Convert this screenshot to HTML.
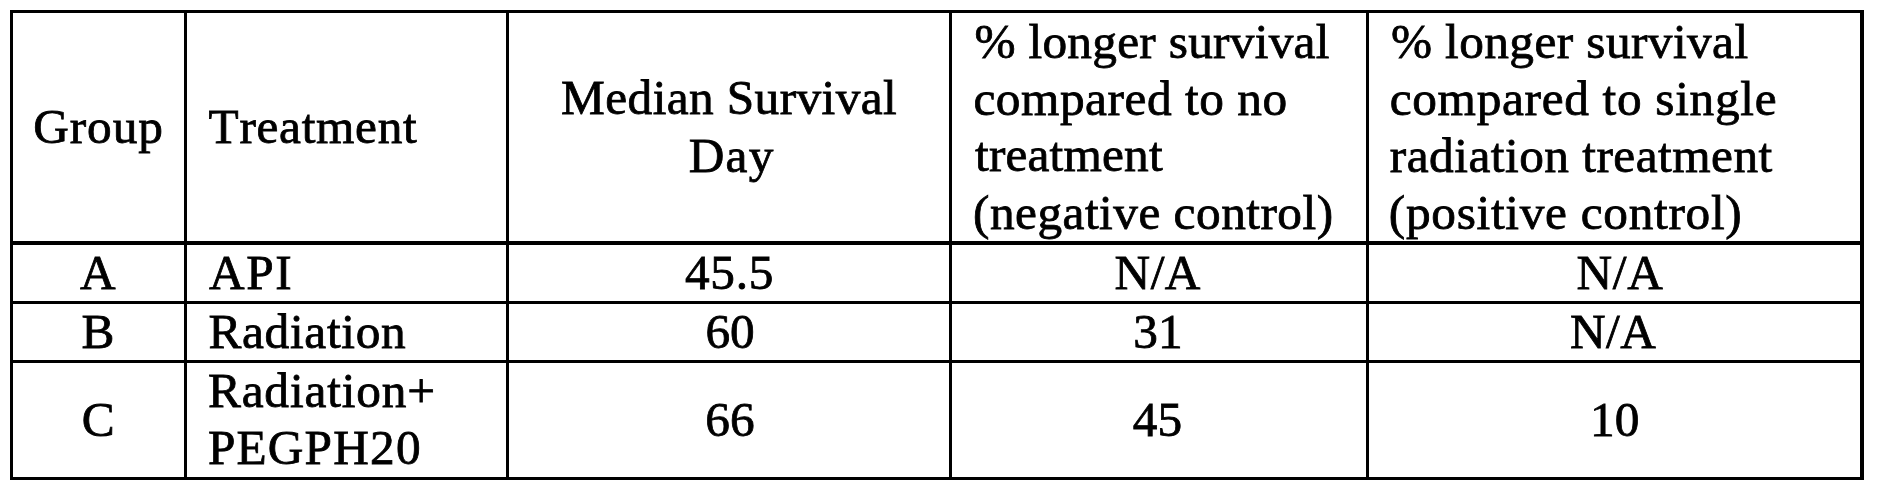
<!DOCTYPE html>
<html><head><meta charset="utf-8">
<style>
html,body{margin:0;padding:0;background:#fff;}
body{width:1877px;height:495px;position:relative;overflow:hidden;font-family:"Liberation Serif",serif;color:#000;}
.l{position:absolute;background:#000;}
.t{position:absolute;white-space:pre;font-size:49.3px;line-height:50px;height:50px;font-kerning:none;-webkit-text-stroke:0.8px #000;}
</style></head><body>
<div class="l" style="left:10px;top:10px;width:1853px;height:3px"></div>
<div class="l" style="left:10px;top:241px;width:1853px;height:3.5px"></div>
<div class="l" style="left:10px;top:301px;width:1853px;height:3px"></div>
<div class="l" style="left:10px;top:360px;width:1853px;height:3px"></div>
<div class="l" style="left:10px;top:477px;width:1853px;height:3px"></div>
<div class="l" style="left:10px;top:10px;width:3px;height:470px"></div>
<div class="l" style="left:184px;top:10px;width:3px;height:470px"></div>
<div class="l" style="left:506px;top:10px;width:3px;height:470px"></div>
<div class="l" style="left:949px;top:10px;width:3px;height:470px"></div>
<div class="l" style="left:1366px;top:10px;width:3px;height:470px"></div>
<div class="l" style="left:1860px;top:10px;width:3.5px;height:470px"></div>
<div class="t" style="left:33.2px;top:102.1px;letter-spacing:0.95px">Group</div>
<div class="t" style="left:208.6px;top:102.1px;letter-spacing:0.7px">Treatment</div>
<div class="t" style="left:561.1px;top:73.0px;letter-spacing:0.4px">Median Survival</div>
<div class="t" style="left:688.8px;top:130.9px;letter-spacing:1.2px">Day</div>
<div class="t" style="left:974.5px;top:16.7px;letter-spacing:0.28px">% longer survival</div>
<div class="t" style="left:973.4px;top:73.5px;letter-spacing:0.55px">compared to no</div>
<div class="t" style="left:975.0px;top:130.4px;letter-spacing:0.18px">treatment</div>
<div class="t" style="left:973.0px;top:187.9px;letter-spacing:0.49px">(negative control)</div>
<div class="t" style="left:1390.9px;top:16.5px;letter-spacing:0.42px">% longer survival</div>
<div class="t" style="left:1389.7px;top:74.0px;letter-spacing:0.69px">compared to single</div>
<div class="t" style="left:1389.8px;top:130.9px;letter-spacing:0.49px">radiation treatment</div>
<div class="t" style="left:1388.8px;top:188.4px;letter-spacing:0.71px">(positive control)</div>
<div class="t" style="left:79.9px;top:248.2px">A</div>
<div class="t" style="left:209.0px;top:248.2px;letter-spacing:1.6px">API</div>
<div class="t" style="left:684.9px;top:247.8px;letter-spacing:0.77px">45.5</div>
<div class="t" style="left:1114.6px;top:247.8px;letter-spacing:0.45px">N/A</div>
<div class="t" style="left:1576.6px;top:247.8px;letter-spacing:0.65px">N/A</div>
<div class="t" style="left:81.4px;top:307.0px">B</div>
<div class="t" style="left:208.4px;top:307.0px;letter-spacing:0.71px">Radiation</div>
<div class="t" style="left:705.4px;top:306.6px">60</div>
<div class="t" style="left:1133.3px;top:307.0px">31</div>
<div class="t" style="left:1570.0px;top:307.2px;letter-spacing:0.45px">N/A</div>
<div class="t" style="left:81.8px;top:394.6px">C</div>
<div class="t" style="left:207.9px;top:365.7px;letter-spacing:0.86px">Radiation+</div>
<div class="t" style="left:207.9px;top:423.1px;letter-spacing:1.2px">PEGPH20</div>
<div class="t" style="left:705.3px;top:394.6px">66</div>
<div class="t" style="left:1132.8px;top:394.6px">45</div>
<div class="t" style="left:1590.0px;top:394.6px">10</div>
</body></html>
